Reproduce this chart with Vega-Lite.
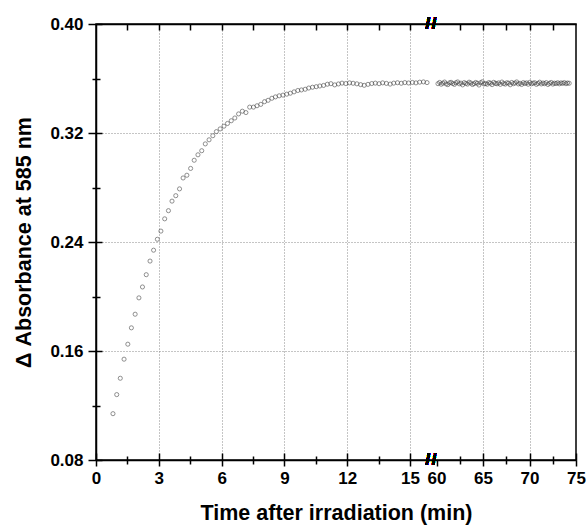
{
  "$schema": "https://vega.github.io/schema/vega-lite/v6.json",
  "width": 480,
  "height": 436,
  "autosize": {"type": "none"},
  "padding": {"left": 96, "top": 24, "right": 10, "bottom": 67},
  "background": "white",
  "view": {"stroke": "black", "strokeWidth": 1.5},
  "config": {
    "font": "Liberation Sans",
    "axis": {"zindex": 1, "domainColor": "black", "tickColor": "black", "domainWidth": 1.5, "tickWidth": 1.5, "labelFont": "Liberation Sans", "titleFont": "Liberation Sans"}
  },
  "data": {
    "values": [
      {"t": 0.81, "A": 0.114}, {"t": 0.99, "A": 0.128}, {"t": 1.16, "A": 0.140}, {"t": 1.34, "A": 0.154}, {"t": 1.52, "A": 0.165},
      {"t": 1.69, "A": 0.177}, {"t": 1.87, "A": 0.187}, {"t": 2.05, "A": 0.199}, {"t": 2.22, "A": 0.207}, {"t": 2.40, "A": 0.216},
      {"t": 2.58, "A": 0.226}, {"t": 2.75, "A": 0.234}, {"t": 2.93, "A": 0.242}, {"t": 3.10, "A": 0.248}, {"t": 3.28, "A": 0.257},
      {"t": 3.46, "A": 0.263}, {"t": 3.63, "A": 0.270}, {"t": 3.81, "A": 0.274}, {"t": 3.99, "A": 0.279}, {"t": 4.16, "A": 0.287},
      {"t": 4.34, "A": 0.289}, {"t": 4.52, "A": 0.294}, {"t": 4.69, "A": 0.300}, {"t": 4.87, "A": 0.304}, {"t": 5.05, "A": 0.307},
      {"t": 5.22, "A": 0.312}, {"t": 5.40, "A": 0.315}, {"t": 5.58, "A": 0.318}, {"t": 5.75, "A": 0.321}, {"t": 5.93, "A": 0.323},
      {"t": 6.11, "A": 0.325}, {"t": 6.28, "A": 0.327}, {"t": 6.46, "A": 0.329}, {"t": 6.63, "A": 0.331}, {"t": 6.81, "A": 0.334},
      {"t": 6.99, "A": 0.336}, {"t": 7.16, "A": 0.335}, {"t": 7.34, "A": 0.339}, {"t": 7.52, "A": 0.339}, {"t": 7.69, "A": 0.340},
      {"t": 7.87, "A": 0.341}, {"t": 8.05, "A": 0.343}, {"t": 8.22, "A": 0.344}, {"t": 8.40, "A": 0.3455}, {"t": 8.57, "A": 0.3465},
      {"t": 8.75, "A": 0.3473}, {"t": 8.93, "A": 0.3478}, {"t": 9.11, "A": 0.3485}, {"t": 9.28, "A": 0.3492}, {"t": 9.46, "A": 0.3502},
      {"t": 9.64, "A": 0.3512}, {"t": 9.81, "A": 0.3516}, {"t": 9.99, "A": 0.3521}, {"t": 10.16, "A": 0.3530}, {"t": 10.34, "A": 0.3536},
      {"t": 10.52, "A": 0.3540}, {"t": 10.69, "A": 0.3545}, {"t": 10.87, "A": 0.3549}, {"t": 11.05, "A": 0.3558}, {"t": 11.22, "A": 0.3562},
      {"t": 11.40, "A": 0.3553}, {"t": 11.58, "A": 0.3560}, {"t": 11.75, "A": 0.3566}, {"t": 11.93, "A": 0.3563}, {"t": 12.11, "A": 0.3568},
      {"t": 12.28, "A": 0.3565}, {"t": 12.46, "A": 0.3561}, {"t": 12.64, "A": 0.3555}, {"t": 12.81, "A": 0.3550}, {"t": 12.99, "A": 0.3557},
      {"t": 13.17, "A": 0.3563}, {"t": 13.34, "A": 0.3566}, {"t": 13.52, "A": 0.3562}, {"t": 13.69, "A": 0.3568}, {"t": 13.87, "A": 0.3564},
      {"t": 14.05, "A": 0.3559}, {"t": 14.22, "A": 0.3566}, {"t": 14.40, "A": 0.3569}, {"t": 14.58, "A": 0.3565}, {"t": 14.75, "A": 0.3570},
      {"t": 14.93, "A": 0.3567}, {"t": 15.11, "A": 0.3571}, {"t": 15.28, "A": 0.3568}, {"t": 15.46, "A": 0.3573}, {"t": 15.64, "A": 0.3575},
      {"t": 15.81, "A": 0.3570},
      {"t": 60.15, "A": 0.3562}, {"t": 60.33, "A": 0.3571}, {"t": 60.50, "A": 0.3558}, {"t": 60.68, "A": 0.3566}, {"t": 60.86, "A": 0.3574},
      {"t": 61.03, "A": 0.3560}, {"t": 61.21, "A": 0.3555}, {"t": 61.39, "A": 0.3568}, {"t": 61.56, "A": 0.3572}, {"t": 61.74, "A": 0.3563},
      {"t": 61.92, "A": 0.3557}, {"t": 62.09, "A": 0.3569}, {"t": 62.27, "A": 0.3575}, {"t": 62.44, "A": 0.3561}, {"t": 62.62, "A": 0.3566},
      {"t": 62.80, "A": 0.3553}, {"t": 62.97, "A": 0.3570}, {"t": 63.15, "A": 0.3564}, {"t": 63.33, "A": 0.3559}, {"t": 63.50, "A": 0.3573},
      {"t": 63.68, "A": 0.3567}, {"t": 63.86, "A": 0.3556}, {"t": 64.03, "A": 0.3562}, {"t": 64.21, "A": 0.3571}, {"t": 64.39, "A": 0.3565},
      {"t": 64.56, "A": 0.3552}, {"t": 64.74, "A": 0.3569}, {"t": 64.92, "A": 0.3576}, {"t": 65.09, "A": 0.3560}, {"t": 65.27, "A": 0.3563},
      {"t": 65.45, "A": 0.3558}, {"t": 65.62, "A": 0.3570}, {"t": 65.80, "A": 0.3566}, {"t": 65.97, "A": 0.3555}, {"t": 66.15, "A": 0.3572},
      {"t": 66.33, "A": 0.3564}, {"t": 66.50, "A": 0.3561}, {"t": 66.68, "A": 0.3568}, {"t": 66.86, "A": 0.3557}, {"t": 67.03, "A": 0.3574},
      {"t": 67.21, "A": 0.3563}, {"t": 67.39, "A": 0.3559}, {"t": 67.56, "A": 0.3569}, {"t": 67.74, "A": 0.3566}, {"t": 67.92, "A": 0.3554},
      {"t": 68.09, "A": 0.3571}, {"t": 68.27, "A": 0.3562}, {"t": 68.45, "A": 0.3567}, {"t": 68.62, "A": 0.3575}, {"t": 68.80, "A": 0.3560},
      {"t": 68.98, "A": 0.3565}, {"t": 69.15, "A": 0.3556}, {"t": 69.33, "A": 0.3570}, {"t": 69.50, "A": 0.3563}, {"t": 69.68, "A": 0.3568},
      {"t": 69.86, "A": 0.3558}, {"t": 70.03, "A": 0.3572}, {"t": 70.21, "A": 0.3561}, {"t": 70.39, "A": 0.3566}, {"t": 70.56, "A": 0.3569},
      {"t": 70.74, "A": 0.3557}, {"t": 70.92, "A": 0.3564}, {"t": 71.09, "A": 0.3573}, {"t": 71.27, "A": 0.3560}, {"t": 71.45, "A": 0.3567},
      {"t": 71.62, "A": 0.3562}, {"t": 71.80, "A": 0.3570}, {"t": 71.98, "A": 0.3556}, {"t": 72.15, "A": 0.3565}, {"t": 72.33, "A": 0.3571},
      {"t": 72.51, "A": 0.3559}, {"t": 72.68, "A": 0.3566}, {"t": 72.86, "A": 0.3563}, {"t": 73.03, "A": 0.3569}, {"t": 73.21, "A": 0.3561},
      {"t": 73.39, "A": 0.3568}, {"t": 73.56, "A": 0.3564}, {"t": 73.74, "A": 0.3570}, {"t": 73.92, "A": 0.3562}, {"t": 74.09, "A": 0.3567},
      {"t": 74.27, "A": 0.3565}
    ]
  },
  "resolve": {"axis": {"x": "independent", "y": "independent"}},
  "layer": [
    {
      "mark": {"type": "point", "opacity": 0},
      "encoding": {
        "x": {"field": "t", "type": "quantitative", "scale": {"domain": [0, 16, 59.4, 75], "range": [0, 335, 335, 480], "nice": false, "zero": false},
          "axis": {"orient": "bottom", "values": [3, 6, 9, 12, 15, 65, 70], "grid": true, "gridColor": "#8a8a8a", "gridDash": [1, 2], "gridWidth": 1, "ticks": false, "labels": false, "domain": false, "title": null}},
        "y": {"field": "A", "type": "quantitative", "scale": {"domain": [0.08, 0.4], "nice": false, "zero": false},
          "axis": {"orient": "left", "values": [0.16, 0.24, 0.32], "grid": true, "gridColor": "#8a8a8a", "gridDash": [1, 2], "gridWidth": 1, "ticks": false, "labels": false, "domain": false, "title": null}}
      }
    },
    {
      "mark": {"type": "point", "filled": false, "color": "#3a3a3a", "size": 17, "strokeWidth": 0.8},
      "encoding": {
        "x": {"field": "t", "type": "quantitative", "scale": {"domain": [0, 16, 59.4, 75], "range": [0, 335, 335, 480], "nice": false, "zero": false},
          "axis": {"orient": "bottom", "values": [0, 3, 6, 9, 12, 15, 60, 65, 70, 75], "grid": false, "tickSize": 6, "labelPadding": 4, "labelFontSize": 17, "labelFontWeight": "bold", "labelColor": "black", "labelFlush": false, "labelOverlap": false,
            "title": "Time after irradiation (min)", "titleFontSize": 21.5, "titleFontWeight": "bold", "titleColor": "black", "titlePadding": 16}},
        "y": {"field": "A", "type": "quantitative", "scale": {"domain": [0.08, 0.4], "nice": false, "zero": false},
          "axis": {"orient": "left", "values": [0.08, 0.16, 0.24, 0.32, 0.4], "format": ".2f", "grid": false, "tickSize": 8, "labelPadding": 5, "labelFontSize": 17, "labelFontWeight": "bold", "labelColor": "black", "labelFlush": false, "labelOverlap": false,
            "title": "Δ Absorbance at 585 nm", "titleFontSize": 21.5, "titleFontWeight": "bold", "titleColor": "black", "titlePadding": 14}}
      }
    },
    {
      "mark": {"type": "point", "opacity": 0},
      "encoding": {
        "x": {"field": "t", "type": "quantitative", "scale": {"domain": [0, 16, 59.4, 75], "range": [0, 335, 335, 480], "nice": false, "zero": false},
          "axis": {"orient": "bottom", "values": [0, 3, 6, 9, 12, 15, 65, 70, 75], "tickSize": -7, "labels": false, "domain": false, "grid": false, "title": null}},
        "y": {"field": "A", "type": "quantitative", "scale": {"domain": [0.08, 0.4], "nice": false, "zero": false},
          "axis": {"orient": "left", "values": [0.08, 0.16, 0.24, 0.32, 0.4], "tickSize": -6, "labels": false, "domain": false, "grid": false, "title": null}}
      }
    },
    {
      "mark": {"type": "point", "opacity": 0},
      "encoding": {
        "x": {"field": "t", "type": "quantitative", "scale": {"domain": [0, 16, 59.4, 75], "range": [0, 335, 335, 480], "nice": false, "zero": false},
          "axis": {"orient": "bottom", "values": [1.5, 4.5, 7.5, 10.5, 13.5, 62.5, 67.5, 72.5], "tickSize": 4, "labels": false, "domain": false, "grid": false, "title": null}},
        "y": {"field": "A", "type": "quantitative", "scale": {"domain": [0.08, 0.4], "nice": false, "zero": false},
          "axis": {"orient": "left", "values": [0.12, 0.2, 0.28, 0.36], "tickSize": 4, "labels": false, "domain": false, "grid": false, "title": null}}
      }
    },
    {
      "mark": {"type": "point", "opacity": 0},
      "encoding": {
        "x": {"field": "t", "type": "quantitative", "scale": {"domain": [0, 16, 59.4, 75], "range": [0, 335, 335, 480], "nice": false, "zero": false},
          "axis": {"orient": "bottom", "values": [1.5, 4.5, 7.5, 10.5, 13.5, 62.5, 67.5, 72.5], "tickSize": -4, "labels": false, "domain": false, "grid": false, "title": null}},
        "y": {"field": "A", "type": "quantitative", "scale": {"domain": [0.08, 0.4], "nice": false, "zero": false},
          "axis": {"orient": "left", "values": [0.12, 0.2, 0.28, 0.36], "tickSize": -4, "labels": false, "domain": false, "grid": false, "title": null}}
      }
    },
    {
      "mark": {"type": "point", "opacity": 0},
      "encoding": {
        "x": {"field": "t", "type": "quantitative", "scale": {"domain": [0, 16, 59.4, 75], "range": [0, 335, 335, 480], "nice": false, "zero": false},
          "axis": {"orient": "top", "values": [1.5, 3, 4.5, 6, 7.5, 9, 10.5, 12, 13.5, 15, 62.5, 65, 67.5, 70, 72.5], "tickSize": -6, "labels": false, "domain": true, "grid": false, "title": null}},
        "y": {"field": "A", "type": "quantitative", "scale": {"domain": [0.08, 0.4], "nice": false, "zero": false}, "axis": null}
      }
    },
    {
      "mark": {"type": "text", "text": "/\u200a/", "fontSize": 17, "fontWeight": "bold", "baseline": "middle", "align": "center", "color": "black"},
      "encoding": {"x": {"datum": 30, "type": "quantitative", "axis": null}, "y": {"datum": 0.4, "type": "quantitative", "axis": null}}
    },
    {
      "mark": {"type": "text", "text": "/\u200a/", "fontSize": 17, "fontWeight": "bold", "baseline": "middle", "align": "center", "color": "black"},
      "encoding": {"x": {"datum": 30, "type": "quantitative", "axis": null}, "y": {"datum": 0.08, "type": "quantitative", "axis": null}}
    }
  ]
}
